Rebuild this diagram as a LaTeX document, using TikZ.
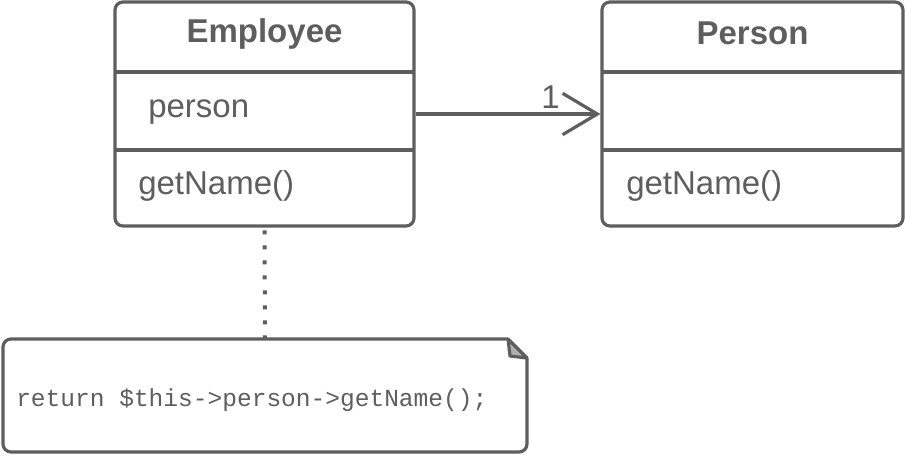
\documentclass[tikz,border=0pt]{standalone}
\usepackage{fontspec}
\setmainfont{Liberation Sans}
\setmonofont{Liberation Mono}
\usetikzlibrary{arrows.meta}
\definecolor{umlgray}{HTML}{5E5E5E}
\definecolor{foldgray}{HTML}{B0B0B0}
\tikzset{
  x=0.75pt, y=-0.75pt,
  umlbox/.style={draw=umlgray, line width=2.4pt, rounded corners=6pt, rectangle, inner sep=0pt},
  divider/.style={draw=umlgray, line width=2.4pt},
  title/.style={text=umlgray, font=\fontsize{24.75}{28}\selectfont\bfseries, inner sep=0pt},
  member/.style={text=umlgray, font=\fontsize{24.75}{28}\selectfont, inner sep=0pt, anchor=west},
  code/.style={text=umlgray, font=\ttfamily\fontsize{18.4}{22}\selectfont, inner sep=0pt, anchor=west},
  assoc/.style={draw=umlgray, line width=2.4pt, -{Straight Barb[length=26pt, width=31pt, line width=2.4pt]}},
  anchorline/.style={draw=umlgray, line width=3pt, dash pattern=on 3pt off 8.25pt, dash phase=-2pt},
}
\begin{document}
\begin{tikzpicture}
\useasboundingbox (0,0) rectangle (905,454);
% Employee class
\node[umlbox, minimum width=224.25pt, minimum height=168pt] (emp) at (264.5,114) {};
\draw[divider] (115,72) -- (414,72);
\draw[divider] (115,150) -- (414,150);
\node[title] (empname) at (264.5,34) {Employee};
\node[member] (empattr) at (148,112) {person};
\node[member] (empop) at (138,186) {getName()};
% Person class
\node[umlbox, minimum width=225.75pt, minimum height=168pt] (per) at (752.5,114) {};
\draw[divider] (602,72) -- (903,72);
\draw[divider] (602,150) -- (903,150);
\node[title] (pername) at (752.5,33) {Person};
\node[member] (perop) at (626,186) {getName()};
% association
\draw[assoc] (emp.east) -- (per.west) node[pos=0.73, above=3pt, text=umlgray, font=\fontsize{24.75}{28}\selectfont, inner sep=0pt] (mult) {1};
% note
\node[inner sep=0pt, minimum width=393pt, minimum height=84.75pt] (note) at (265,395.5) {};
\draw[umlgray, line width=2.4pt, rounded corners=6pt]
  (508,339) -- (3,339) -- (3,452) -- (527,452) -- (527,358);
\draw[umlgray, line width=2.4pt, fill=foldgray, line join=round]
  (508,339) -- (527,358) -- (510,356) -- cycle;
\node[code] (notetext) at (16,400) {return \$this->person->getName();};
\draw[anchorline] (emp.south) -- (note.north);
\end{tikzpicture}
\end{document}
